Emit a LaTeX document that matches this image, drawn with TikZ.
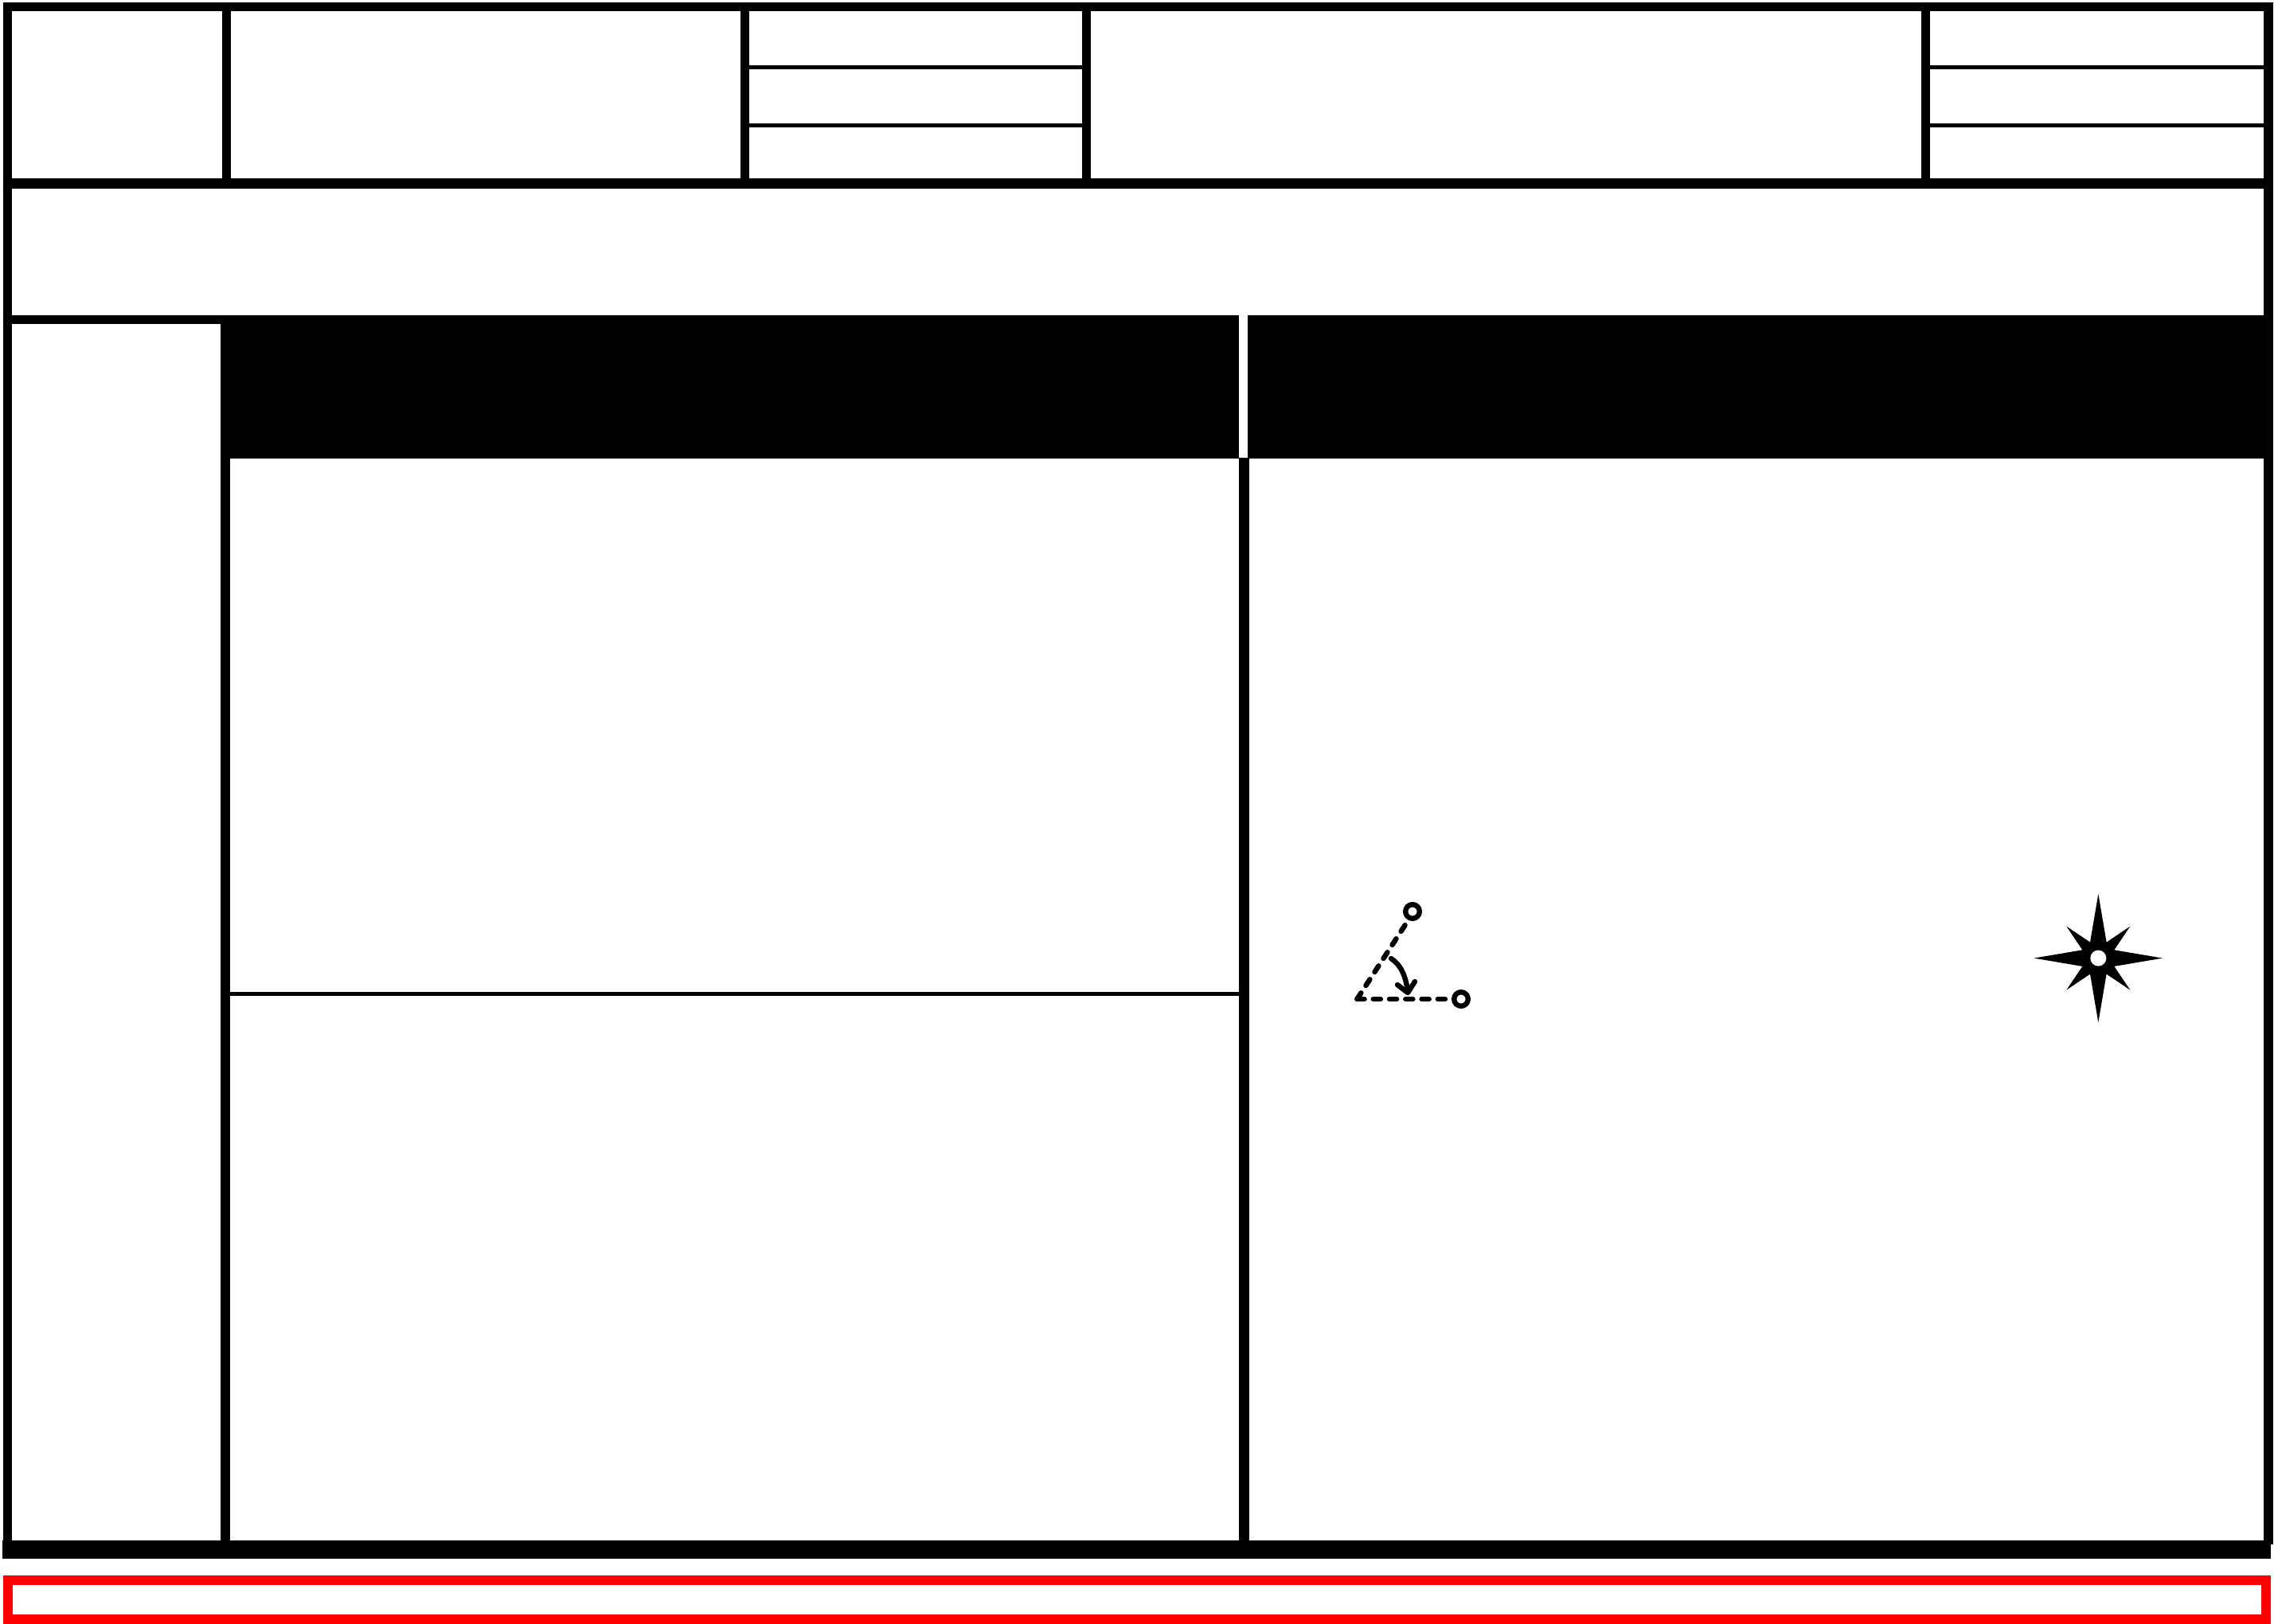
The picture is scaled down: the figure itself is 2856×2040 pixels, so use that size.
\documentclass[tikz,border=0pt]{standalone}
\tikzset{
  bar/.style={fill=black},
  redbar/.style={fill=red},
  iconline/.style={draw=black,line width=1.6pt,line cap=round,line join=round},
  icondash/.style={iconline,dash pattern=on 2.3pt off 2.77pt},
  ringmark/.style={draw=black,fill=white,line width=1.6pt}
}
\begin{document}
\begin{tikzpicture}[x=0.25pt,y=-0.25pt]
\useasboundingbox (0,0) rectangle (2856,2040);
\fill[white] (0,0) rectangle (2856,2040);
% outer frame
\fill[bar] (4,3) rectangle (2854,14);
\fill[bar] (4,3) rectangle (15,1940);
\fill[bar] (2843,3) rectangle (2854.5,1940);
\fill[bar] (3,1935) rectangle (2852,1958);
% header rows
\fill[bar] (4,224) rectangle (2854,237);
\fill[bar] (4,396) rectangle (280,407);
% header columns
\fill[bar] (279,14) rectangle (290,224);
\fill[bar] (930,14) rectangle (941,224);
\fill[bar] (1359,14) rectangle (1370,224);
\fill[bar] (2413,14) rectangle (2424,224);
% thin header rules
\fill[bar] (941,82) rectangle (1359,87);
\fill[bar] (941,155) rectangle (1359,160);
\fill[bar] (2424,82) rectangle (2843,87);
\fill[bar] (2424,155) rectangle (2843,160);
% black title bands
\fill[bar] (277,396) rectangle (1556,576);
\fill[bar] (1567,396) rectangle (2855,576);
% body columns
\fill[bar] (277,576) rectangle (288.5,1935);
\fill[bar] (1555.5,575) rectangle (1568.5,1935);
\fill[bar] (288,1246) rectangle (1556,1251);
% red strip
\fill[redbar] (3.5,1978.5) rectangle (2851.5,2039.5);
\fill[white] (15.5,1990.5) rectangle (2839.5,2027.5);
% angle icon
\draw[icondash] (1704.4,1255) -- (1818,1255);
\draw[icondash] (1704.4,1255) -- (1766,1160);
\draw[iconline] (1747,1204) .. controls (1760,1212) and (1766,1228) .. (1768,1246);
\draw[iconline] (1755,1237) -- (1768,1247) -- (1777,1233);
\draw[ringmark] (1774,1145) circle[radius=8.8];
\draw[ringmark] (1835,1255) circle[radius=8.8];
% compass star
\begin{scope}[shift={(2635.3,1203.6)}]
\fill[black] (0,-80.7) -- (10.3,-20) -- (40,-40) -- (20,-10.3)
  -- (80.7,0) -- (20,10.3) -- (40,40) -- (10.3,20)
  -- (0,80.7) -- (-10.3,20) -- (-40,40) -- (-20,10.3)
  -- (-80.7,0) -- (-20,-10.3) -- (-40,-40) -- (-10.3,-20) -- cycle;
\fill[white] (0,0) circle[radius=10];
\end{scope}
\end{tikzpicture}
\end{document}
